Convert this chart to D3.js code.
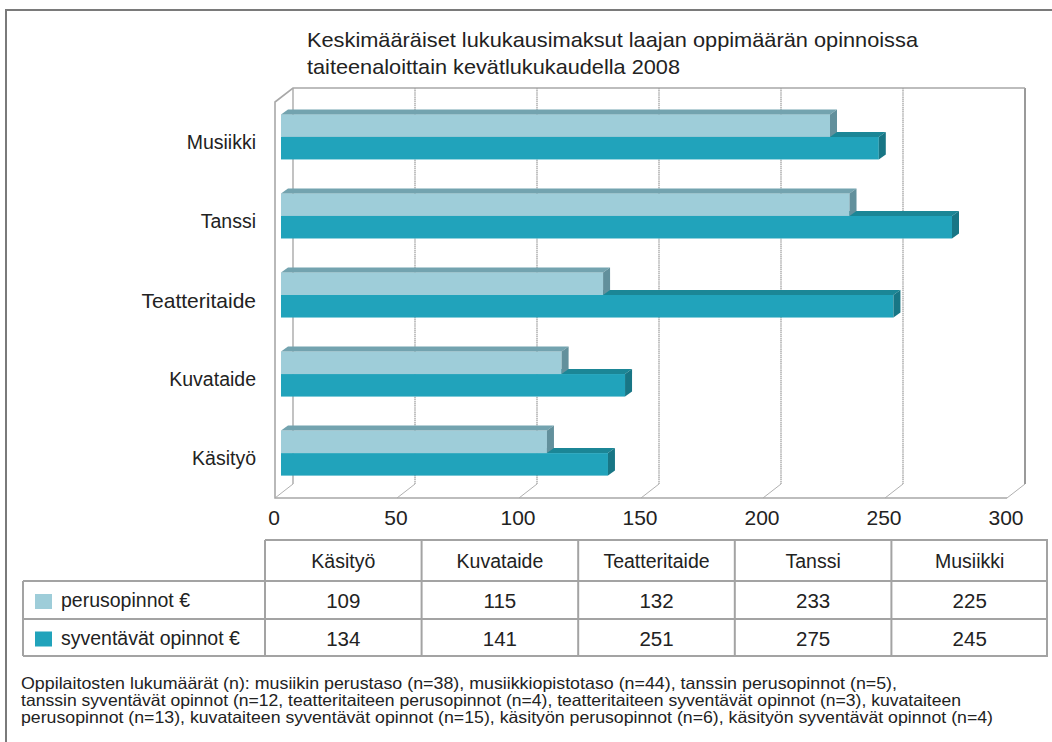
<!DOCTYPE html>
<html lang="fi">
<head>
    <meta charset="UTF-8">
    <title>Keskimääräiset lukukausimaksut</title>
    <script src="https://cdnjs.cloudflare.com/ajax/libs/d3/7.8.5/d3.min.js"></script>
    <style>
        body {
            margin: 0;
            background: #fff;
        }
        svg text {
            font-family: "Liberation Sans", Arial, sans-serif;
            fill: #222;
        }
    </style>
</head>
<body>
    <div id="chart"></div>

    <script>
        // chart data (bars top -> bottom)
        const categories = ["Musiikki", "Tanssi", "Teatteritaide", "Kuvataide", "Käsityö"];
        const perusopinnot = [225, 233, 132, 115, 109];
        const syventavat = [245, 275, 251, 141, 134];
        const seriesNames = ["perusopinnot €", "syventävät opinnot €"];
        const xTicks = [0, 50, 100, 150, 200, 250, 300];
        // data table columns run the other way
        const tableCategories = ["Käsityö", "Kuvataide", "Teatteritaide", "Tanssi", "Musiikki"];

        const titleLines = [
            "Keskimääräiset lukukausimaksut laajan oppimäärän opinnoissa",
            "taiteenaloittain kevätlukukaudella 2008"
        ];
        const noteLines = [
            "Oppilaitosten lukumäärät (n): musiikin perustaso (n=38), musiikkiopistotaso (n=44), tanssin perusopinnot (n=5),",
            "tanssin syventävät opinnot (n=12, teatteritaiteen perusopinnot (n=4), teatteritaiteen syventävät opinnot (n=3), kuvataiteen",
            "perusopinnot (n=13), kuvataiteen syventävät opinnot (n=15), käsityön perusopinnot (n=6), käsityön syventävät opinnot (n=4)"
        ];

        const W = 1052, H = 742;
        const svg = d3.select("#chart").append("svg")
            .attr("width", W).attr("height", H);

        // outer frame (top + left only)
        svg.append("path")
            .attr("d", `M6,${H} V10 H${W}`)
            .attr("fill", "none").attr("stroke", "#7a7a7a").attr("stroke-width", 2);

        // title
        svg.selectAll(".title").data(titleLines).enter().append("text")
            .attr("class", "title")
            .attr("x", 307)
            .attr("y", (d, i) => 47 + i * 27)
            .attr("font-size", 21)
            .attr("textLength", (d, i) => [611, 373][i])
            .attr("lengthAdjust", "spacingAndGlyphs")
            .text(d => d);

        // 3d plot geometry
        const plotTop = 102, plotBottom = 498;
        const depth = {dx: 18, dy: -14};
        const x = d3.scaleLinear().domain([0, 300]).range([275, 1007]);
        const y = d3.scaleBand().domain(categories)
            .range([plotTop, plotBottom])
            .paddingInner(0.43).paddingOuter(0.22);
        const sub = d3.scaleBand().domain([0, 1]).range([0, y.bandwidth()]);

        const grid = svg.append("g");
        // back wall grid lines
        grid.selectAll(".gl").data(xTicks).enter().append("line")
            .attr("x1", d => x(d) + depth.dx).attr("x2", d => x(d) + depth.dx)
            .attr("y1", plotTop + depth.dy).attr("y2", plotBottom + depth.dy)
            .attr("stroke", "#9a9a9a").attr("stroke-width", d => d === 300 ? 2 : 1.2)
            .attr("stroke-dasharray", d => d === 0 || d === 300 ? null : "1.5,0.6");
        // floor ticks
        grid.selectAll(".ft").data(xTicks).enter().append("line")
            .attr("x1", d => x(d)).attr("y1", plotBottom)
            .attr("x2", d => x(d) + depth.dx).attr("y2", plotBottom + depth.dy)
            .attr("stroke", "#b0b0b0").attr("stroke-width", 1);
        // back wall top, left wall, floor edge
        grid.append("path")
            .attr("d", `M${x(300) + depth.dx},${plotTop + depth.dy} H${x(0) + depth.dx} L${x(0)},${plotTop} V${plotBottom} H${x(300)}`)
            .attr("fill", "none").attr("stroke", "#a8a8a8").attr("stroke-width", 1.6);

        // bars
        const barOff = {dx: 6, dy: -5};
        const barDepth = {dx: 7, dy: -5};
        const colors = [
            {front: "#9ecdd9", top: "#73a3af", side: "#62909c"},
            {front: "#21a3bb", top: "#1b8696", side: "#187685"}
        ];
        const bars = [];
        categories.forEach((c, i) => {
            [perusopinnot[i], syventavat[i]].forEach((v, s) => bars.push({c, v, s}));
        });
        // lower (dark) bars first so the light bars cover their top faces
        bars.sort((a, b) => b.s - a.s);

        const barG = svg.append("g").selectAll("g").data(bars).enter().append("g");
        const geo = d => {
            const x0 = x(0) + barOff.dx, x1 = x(d.v) + barOff.dx;
            const y0 = y(d.c) + sub(d.s) + barOff.dy, y1 = y0 + sub.bandwidth();
            return {x0, x1, y0, y1};
        };
        barG.append("rect")
            .attr("x", d => geo(d).x0).attr("y", d => geo(d).y0)
            .attr("width", d => geo(d).x1 - geo(d).x0)
            .attr("height", d => geo(d).y1 - geo(d).y0)
            .attr("fill", d => colors[d.s].front);
        barG.append("path")
            .attr("d", d => {
                const g = geo(d);
                return `M${g.x0},${g.y0} L${g.x0 + barDepth.dx},${g.y0 + barDepth.dy} L${g.x1 + barDepth.dx},${g.y0 + barDepth.dy} L${g.x1},${g.y0}Z`;
            })
            .attr("fill", d => colors[d.s].top);
        barG.append("path")
            .attr("d", d => {
                const g = geo(d);
                return `M${g.x1},${g.y0} L${g.x1 + barDepth.dx},${g.y0 + barDepth.dy} L${g.x1 + barDepth.dx},${g.y1 + barDepth.dy} L${g.x1},${g.y1}Z`;
            })
            .attr("fill", d => colors[d.s].side);

        // category labels
        svg.selectAll(".cat").data(categories).enter().append("text")
            .attr("x", 256)
            .attr("y", d => y(d) + y.bandwidth() / 2 + 2)
            .attr("text-anchor", "end")
            .attr("dominant-baseline", "middle")
            .attr("font-size", d => d === "Teatteritaide" ? 21 : 19.5)
            .text(d => d);

        // value axis labels
        svg.selectAll(".xt").data(xTicks).enter().append("text")
            .attr("x", d => x(d) - 1)
            .attr("y", 525)
            .attr("text-anchor", "middle")
            .attr("font-size", 21)
            .text(d => d);

        // data table
        const tx = d3.scaleBand().domain(tableCategories).range([265, 1048]);
        const rows = [540, 581, 619, 656];
        const tableLeft = 23;
        const tg = svg.append("g").attr("stroke", "#a3a3a3").attr("stroke-width", 2);
        tg.append("line").attr("x1", tx.range()[0]).attr("x2", tx.range()[1]).attr("y1", rows[0]).attr("y2", rows[0]);
        rows.slice(1).forEach(r => {
            tg.append("line").attr("x1", tableLeft).attr("x2", tx.range()[1]).attr("y1", r).attr("y2", r);
        });
        tx.domain().forEach(c => {
            tg.append("line").attr("x1", tx(c)).attr("x2", tx(c)).attr("y1", rows[0]).attr("y2", rows[3]);
        });
        tg.append("line").attr("x1", tx.range()[1] - 1).attr("x2", tx.range()[1] - 1).attr("y1", rows[0]).attr("y2", rows[3]);
        tg.append("line").attr("x1", tableLeft).attr("x2", tableLeft).attr("y1", rows[1]).attr("y2", rows[3]);

        svg.selectAll(".th").data(tableCategories).enter().append("text")
            .attr("x", d => tx(d) + tx.bandwidth() / 2)
            .attr("y", (rows[0] + rows[1]) / 2 + 7)
            .attr("text-anchor", "middle")
            .attr("font-size", 19.5)
            .text(d => d);

        const tableSeries = [perusopinnot, syventavat];
        tableSeries.forEach((vals, s) => {
            const cy = (rows[s + 1] + rows[s + 2]) / 2;
            svg.append("rect")
                .attr("x", 35).attr("y", cy - 6).attr("width", 17).attr("height", 15)
                .attr("fill", colors[s].front);
            svg.append("text")
                .attr("x", 61).attr("y", cy + 7)
                .attr("font-size", 19.5)
                .text(seriesNames[s]);
            svg.selectAll(".tv" + s).data(tableCategories).enter().append("text")
                .attr("x", d => tx(d) + tx.bandwidth() / 2)
                .attr("y", cy + 8)
                .attr("text-anchor", "middle")
                .attr("font-size", 20.5)
                .text(d => vals[categories.indexOf(d)]);
        });

        // footnote
        svg.selectAll(".note").data(noteLines).enter().append("text")
            .attr("x", 21)
            .attr("y", (d, i) => 689 + i * 17)
            .attr("font-size", 16.5)
            .attr("textLength", (d, i) => [876, 940, 972][i])
            .attr("lengthAdjust", "spacingAndGlyphs")
            .text(d => d);
    </script>
</body>
</html>
